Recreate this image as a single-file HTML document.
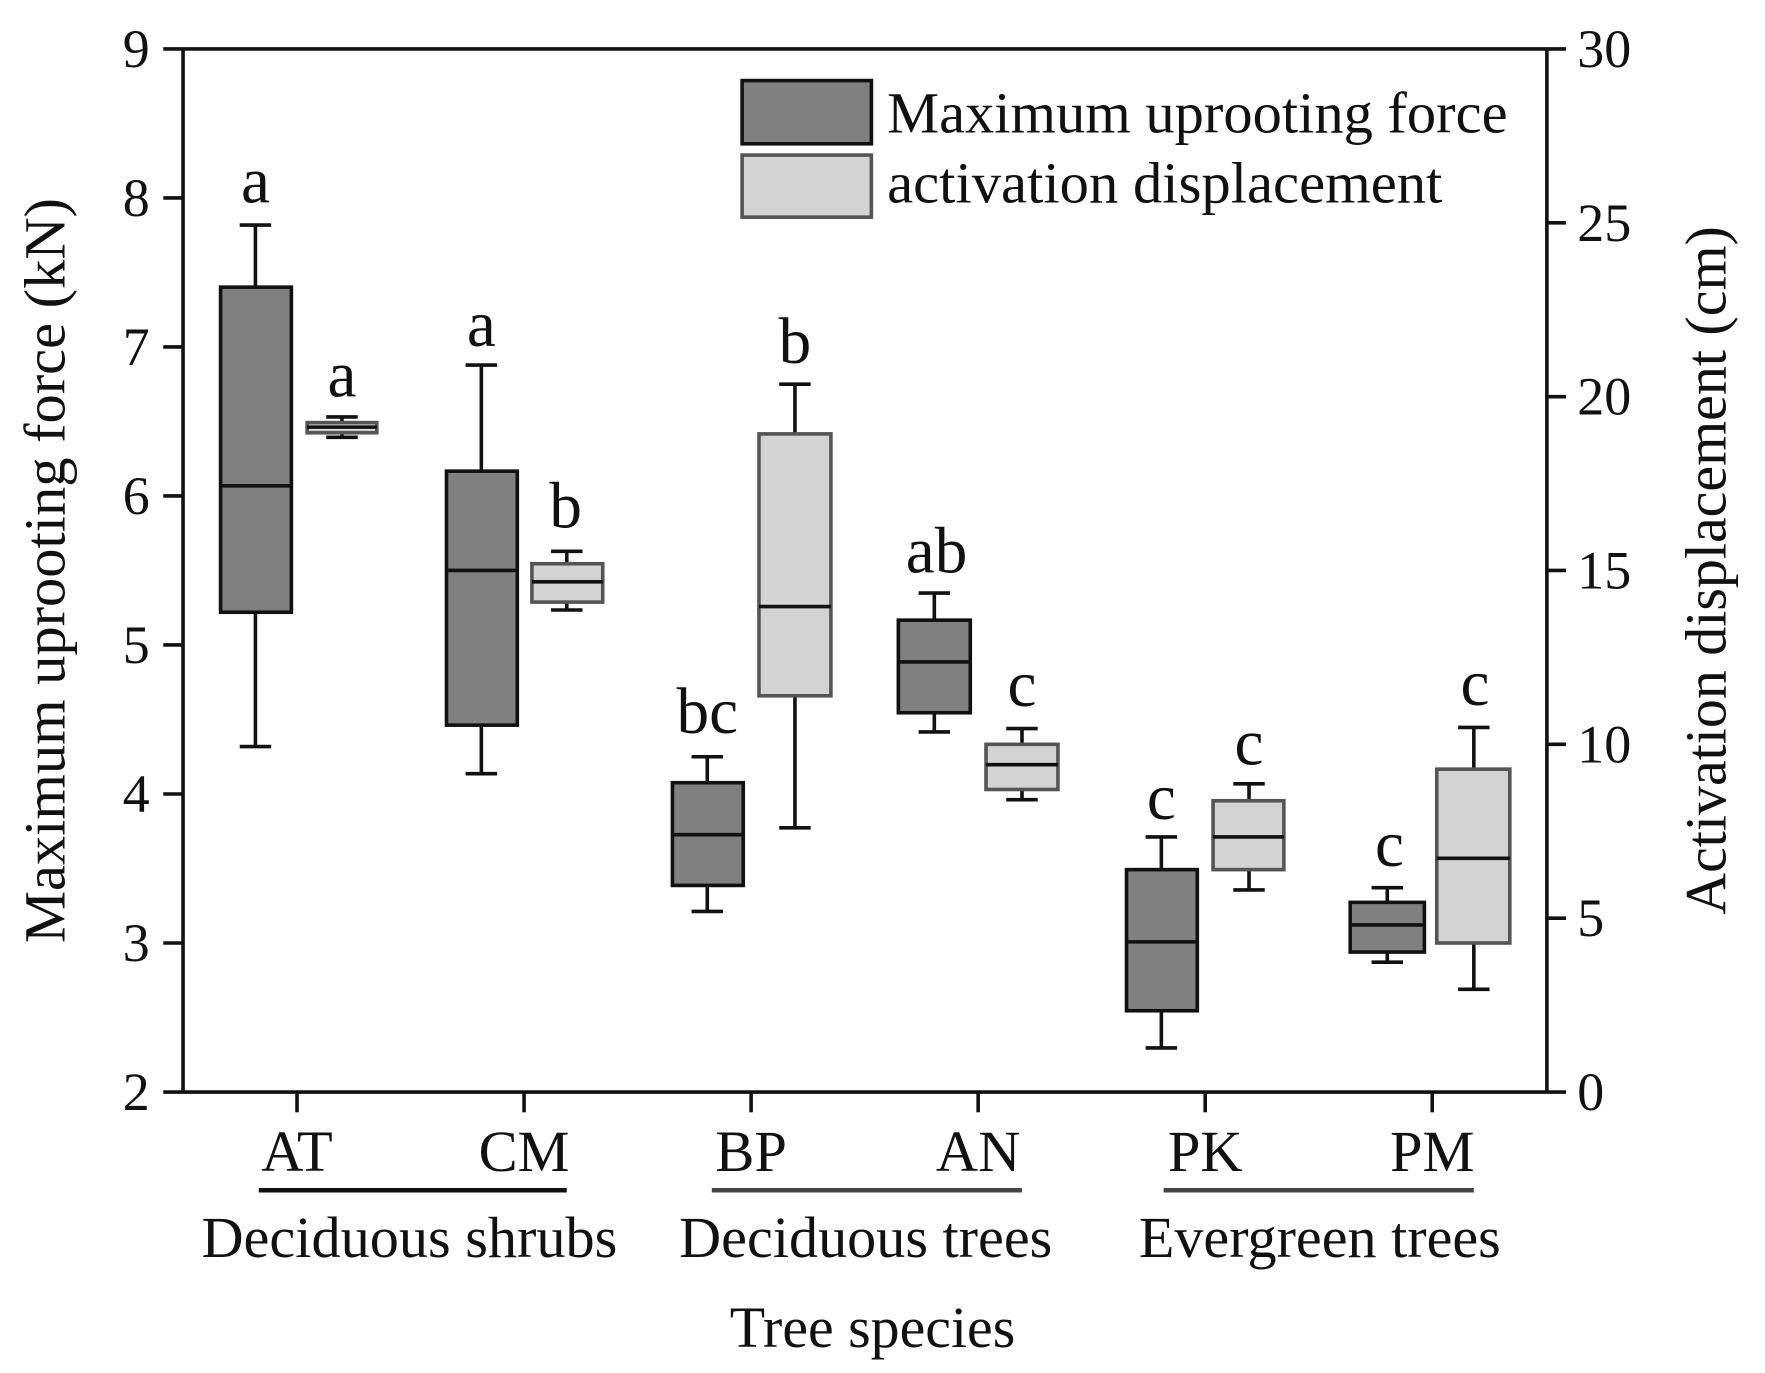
<!DOCTYPE html>
<html><head><meta charset="utf-8"><style>html,body{margin:0;padding:0;background:#fff}svg{display:block}</style></head>
<body>
<svg width="1765" height="1373" viewBox="-1.25 0.62 1570.3 1216.3" preserveAspectRatio="none" xmlns="http://www.w3.org/2000/svg" font-family="Liberation Serif, serif" fill="#111">
<g stroke="#111" stroke-width="3.2" fill="none">
<line x1="161.6" y1="44" x2="161.6" y2="968"/>
<line x1="1375" y1="44" x2="1375" y2="968"/>
<line x1="161.6" y1="44" x2="1375" y2="44"/>
<line x1="144" y1="968" x2="1375" y2="968"/>
<line x1="144" y1="44" x2="161.6" y2="44"/><line x1="144" y1="176" x2="161.6" y2="176"/><line x1="144" y1="308" x2="161.6" y2="308"/><line x1="144" y1="440" x2="161.6" y2="440"/><line x1="144" y1="572" x2="161.6" y2="572"/><line x1="144" y1="704" x2="161.6" y2="704"/><line x1="144" y1="836" x2="161.6" y2="836"/>
<line x1="1375" y1="44" x2="1392" y2="44"/><line x1="1375" y1="198" x2="1392" y2="198"/><line x1="1375" y1="352" x2="1392" y2="352"/><line x1="1375" y1="506" x2="1392" y2="506"/><line x1="1375" y1="660" x2="1392" y2="660"/><line x1="1375" y1="814" x2="1392" y2="814"/><line x1="1375" y1="968" x2="1392" y2="968"/>
<line x1="263" y1="968" x2="263" y2="986"/><line x1="465" y1="968" x2="465" y2="986"/><line x1="667" y1="968" x2="667" y2="986"/><line x1="869" y1="968" x2="869" y2="986"/><line x1="1071" y1="968" x2="1071" y2="986"/><line x1="1273" y1="968" x2="1273" y2="986"/>
<line x1="229" y1="1055" x2="503" y2="1055" stroke-width="4"/><line x1="632" y1="1055" x2="908" y2="1055" stroke-width="4" stroke="#444"/><line x1="1034" y1="1055" x2="1310" y2="1055" stroke-width="4" stroke="#444"/>
</g>
<g stroke="#111" stroke-width="3.2">
<g fill="none">
<line x1="226" y1="200" x2="226" y2="662"/><line x1="212" y1="200" x2="240" y2="200"/><line x1="212" y1="662" x2="240" y2="662"/>
<line x1="303" y1="370" x2="303" y2="388"/><line x1="289" y1="370" x2="317" y2="370"/><line x1="289" y1="388" x2="317" y2="388"/>
<line x1="427" y1="324" x2="427" y2="686"/><line x1="413" y1="324" x2="441" y2="324"/><line x1="413" y1="686" x2="441" y2="686"/>
<line x1="503" y1="489" x2="503" y2="541"/><line x1="489" y1="489" x2="517" y2="489"/><line x1="489" y1="541" x2="517" y2="541"/>
<line x1="628" y1="671" x2="628" y2="808"/><line x1="614" y1="671" x2="642" y2="671"/><line x1="614" y1="808" x2="642" y2="808"/>
<line x1="706" y1="341" x2="706" y2="734"/><line x1="692" y1="341" x2="720" y2="341"/><line x1="692" y1="734" x2="720" y2="734"/>
<line x1="830" y1="526" x2="830" y2="649"/><line x1="816" y1="526" x2="844" y2="526"/><line x1="816" y1="649" x2="844" y2="649"/>
<line x1="908" y1="646" x2="908" y2="709"/><line x1="894" y1="646" x2="922" y2="646"/><line x1="894" y1="709" x2="922" y2="709"/>
<line x1="1032" y1="742" x2="1032" y2="929"/><line x1="1018" y1="742" x2="1046" y2="742"/><line x1="1018" y1="929" x2="1046" y2="929"/>
<line x1="1110" y1="695" x2="1110" y2="789"/><line x1="1096" y1="695" x2="1124" y2="695"/><line x1="1096" y1="789" x2="1124" y2="789"/>
<line x1="1233" y1="787" x2="1233" y2="853"/><line x1="1219" y1="787" x2="1247" y2="787"/><line x1="1219" y1="853" x2="1247" y2="853"/>
<line x1="1310" y1="645" x2="1310" y2="877"/><line x1="1296" y1="645" x2="1324" y2="645"/><line x1="1296" y1="877" x2="1324" y2="877"/>
</g>
<rect x="195" y="255" width="63" height="288" fill="#808080"/><line x1="195" y1="431" x2="258" y2="431"/>
<rect x="272" y="375" width="62" height="9" fill="#d3d3d3" stroke="#555"/><line x1="272" y1="379" x2="334" y2="379"/>
<rect x="396" y="418" width="63" height="225" fill="#808080"/><line x1="396" y1="506" x2="459" y2="506"/>
<rect x="472" y="500" width="63" height="34" fill="#d3d3d3" stroke="#555"/><line x1="472" y1="516" x2="535" y2="516"/>
<rect x="597" y="694" width="63" height="91" fill="#808080"/><line x1="597" y1="740" x2="660" y2="740"/>
<rect x="674" y="385" width="64" height="232" fill="#d3d3d3" stroke="#555"/><line x1="674" y1="538" x2="738" y2="538"/>
<rect x="798" y="550" width="64" height="82" fill="#808080"/><line x1="798" y1="587" x2="862" y2="587"/>
<rect x="876" y="660" width="64" height="40" fill="#d3d3d3" stroke="#555"/><line x1="876" y1="678" x2="940" y2="678"/>
<rect x="1001" y="771" width="63" height="125" fill="#808080"/><line x1="1001" y1="835" x2="1064" y2="835"/>
<rect x="1078" y="710" width="63" height="61" fill="#d3d3d3" stroke="#555"/><line x1="1078" y1="742" x2="1141" y2="742"/>
<rect x="1200" y="800" width="66" height="44" fill="#808080"/><line x1="1200" y1="820" x2="1266" y2="820"/>
<rect x="1277" y="682" width="65" height="154" fill="#d3d3d3" stroke="#555"/><line x1="1277" y1="761" x2="1342" y2="761"/>
<rect x="659" y="72" width="115" height="56" fill="#808080"/>
<rect x="659" y="138" width="115" height="55" fill="#d3d3d3" stroke="#555"/>
</g>
<g font-size="52">
<text x="788" y="118" textLength="552" lengthAdjust="spacingAndGlyphs">Maximum uprooting force</text>
<text x="788" y="180" textLength="494" lengthAdjust="spacingAndGlyphs">activation displacement</text>
</g>
<g font-size="48" text-anchor="end">
<text x="132" y="60">9</text><text x="132" y="192">8</text><text x="132" y="324">7</text><text x="132" y="456">6</text><text x="132" y="588">5</text><text x="132" y="720">4</text><text x="132" y="852">3</text><text x="132" y="984">2</text>
</g>
<g font-size="48">
<text x="1402" y="60">30</text><text x="1402" y="214">25</text><text x="1402" y="368">20</text><text x="1402" y="522">15</text><text x="1402" y="676">10</text><text x="1402" y="830">5</text><text x="1402" y="984">0</text>
</g>
<g font-size="58" text-anchor="middle">
<text x="226" y="180">a</text><text x="303" y="352">a</text><text x="427" y="307">a</text><text x="502" y="468">b</text>
<text x="628" y="650">bc</text><text x="706" y="322">b</text><text x="832" y="508">ab</text><text x="908" y="626">c</text>
<text x="1032" y="726">c</text><text x="1110" y="678">c</text><text x="1235" y="768">c</text><text x="1311" y="625">c</text>
</g>
<g font-size="52" text-anchor="middle">
<text x="263" y="1038">AT</text><text x="465" y="1038">CM</text><text x="667" y="1038">BP</text><text x="869" y="1038">AN</text><text x="1071" y="1038">PK</text><text x="1273" y="1038">PM</text>
<text x="363" y="1114" textLength="370" lengthAdjust="spacingAndGlyphs">Deciduous shrubs</text>
<text x="769" y="1114" textLength="332" lengthAdjust="spacingAndGlyphs">Deciduous trees</text>
<text x="1173" y="1114" textLength="322" lengthAdjust="spacingAndGlyphs">Evergreen trees</text>
<text x="775" y="1194" textLength="254" lengthAdjust="spacingAndGlyphs">Tree species</text>
<text transform="translate(56,506) rotate(-90)" textLength="660" lengthAdjust="spacingAndGlyphs">Maximum uprooting force (kN)</text>
<text transform="translate(1534,506) rotate(-90)" textLength="610" lengthAdjust="spacingAndGlyphs">Activation displacement (cm)</text>
</g>
</svg>
</body></html>
